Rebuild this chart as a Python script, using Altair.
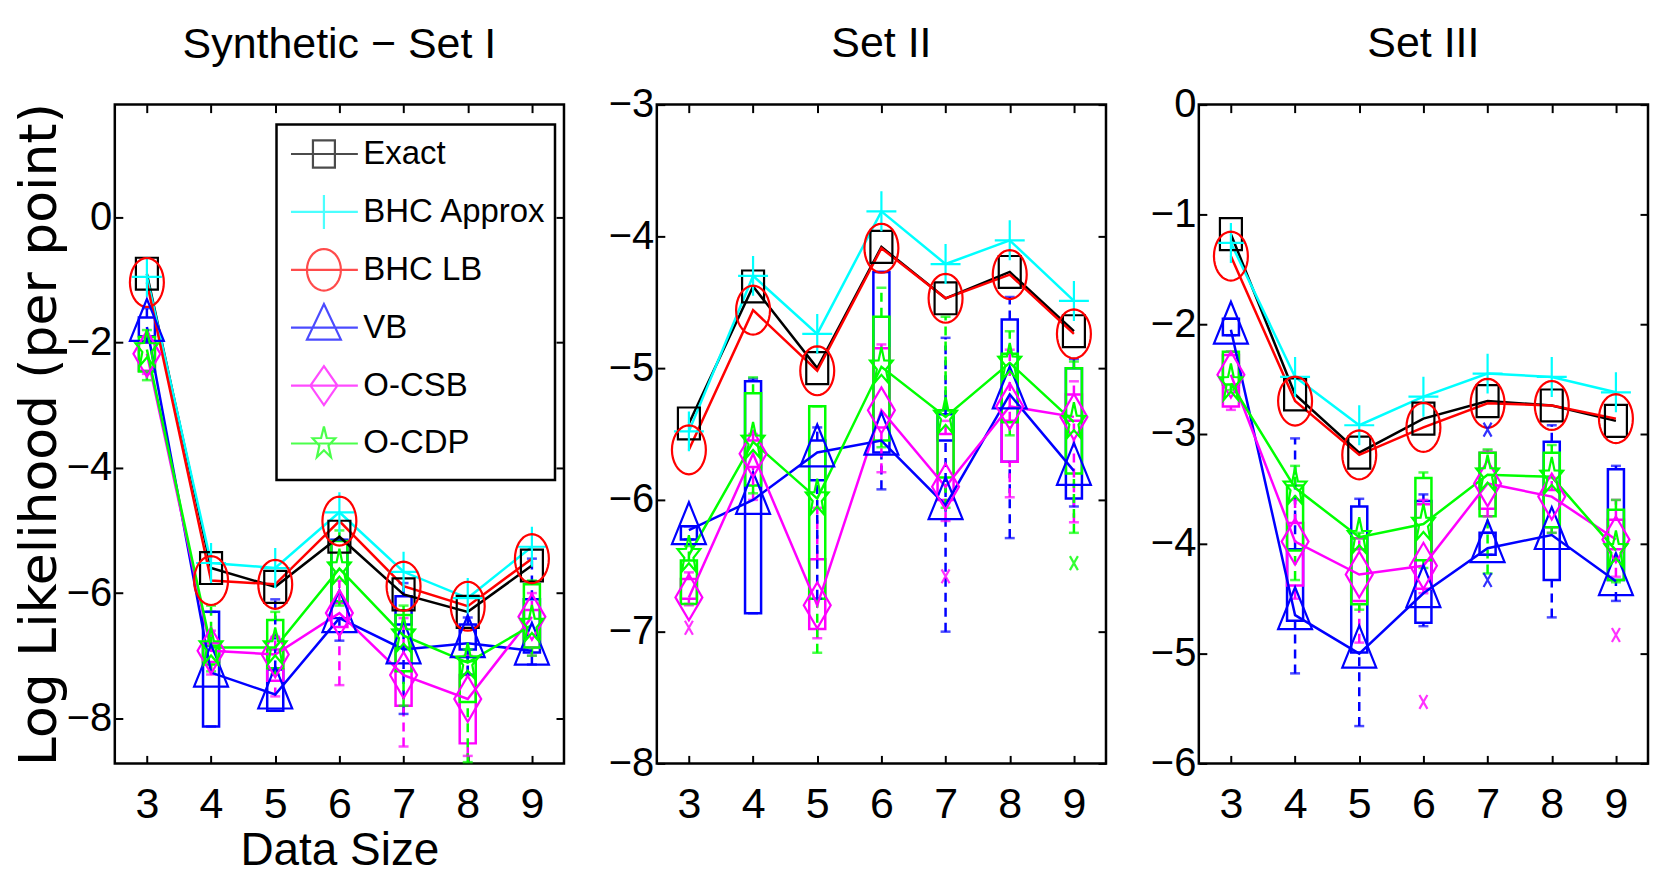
import math
import altair as alt
import pandas as pd

# ---------------- data ----------------
X = [3, 4, 5, 6, 7, 8, 9]
SERIES = ["Exact", "BHC Approx", "BHC LB", "VB", "O-CSB", "O-CDP"]
COLORS = ["#000000", "#00FFFF", "#FF0000", "#0000FF", "#FF00FF", "#00FF00"]
MARKERS = ["square", "plus", "circle", "triangle", "diamond", "star"]
BOX_SERIES = ["VB", "O-CSB", "O-CDP"]

TITLES = ["Synthetic \u2212 Set I", "Set II", "Set III"]
Y_DOMAINS = [[-8.72, 1.8], [-8, -3], [-6, 0]]
Y_TICKS = [[-8, -6, -4, -2, 0], [-8, -7, -6, -5, -4, -3], [-6, -5, -4, -3, -2, -1, 0]]

# panel 1 (Synthetic - Set I): mean log likelihood per series
P1_EXACT = [-0.9, -5.6, -5.9, -5.1, -6.02, -6.3, -5.56]
P1_APPROX = [-0.95, -5.52, -5.6, -4.71, -5.66, -6.08, -5.26]
P1_LB = [-1.04, -5.8, -5.86, -4.85, -5.89, -6.21, -5.45]
P1_VB = [-1.75, -7.27, -7.62, -6.4, -6.9, -6.8, -6.92]
P1_CSB = [-2.18, -6.92, -6.98, -6.32, -7.31, -7.69, -6.38]
P1_CDP = [-2.11, -6.87, -6.87, -5.61, -6.68, -7.11, -6.51]
# boxes: (upper quartile, lower quartile, upper whisker, lower whisker)
P1_VB_BOX = [(-1.6, -1.9, -1.45, -2.0), (-6.3, -8.13, -6.3, -8.13), (-7.22, -7.88, -6.1, -7.88),
             (-5.15, -6.4, -5.15, -6.76), (-6.05, -6.5, -5.84, -7.93), (-6.5, -6.9, -6.39, -7.3),
             (-6.1, -6.95, -5.45, -7.14)]
P1_CSB_BOX = [(-2.0, -2.45, -1.9, -2.5), (-6.8, -7.1, -6.6, -7.3), (-6.9, -7.4, -6.7, -7.65),
              (-6.16, -6.54, -5.8, -7.47), (-6.87, -7.8, -6.4, -8.45), (-7.31, -8.4, -7.0, -8.6),
              (-6.27, -6.87, -6.0, -7.0)]
P1_CDP_BOX = [(-1.91, -2.46, -1.8, -2.6), (-6.84, -7.14, -6.2, -7.25), (-6.43, -7.2, -6.3, -7.3),
              (-5.17, -6.13, -5.0, -6.2), (-6.35, -7.25, -6.2, -7.8), (-7.09, -7.74, -6.9, -8.7),
              (-5.86, -6.87, -5.8, -7.0)]
P1_OUTLIERS = []

# panel 2 (Set II)
P2_EXACT = [-5.42, -4.38, -5.0, -4.08, -4.47, -4.27, -4.72]
P2_APPROX = [-5.48, -4.3, -4.74, -3.81, -4.21, -4.03, -4.49]
P2_LB = [-5.62, -4.56, -5.02, -4.09, -4.47, -4.29, -4.74]
P2_VB = [-6.23, -6.0, -5.64, -5.55, -6.04, -5.2, -5.78]
P2_CSB = [-6.74, -5.65, -6.8, -5.32, -5.9, -5.29, -5.37]
P2_CDP = [-6.42, -5.56, -5.99, -4.99, -5.37, -4.96, -5.41]
P2_VB_BOX = [(-6.2, -6.3, -6.2, -6.3), (-5.1, -6.86, -5.08, -6.86), (-5.55, -5.85, -5.45, -6.75),
             (-4.27, -5.64, -4.27, -5.92), (-5.35, -5.55, -4.77, -7.0), (-4.63, -5.71, -4.46, -6.29),
             (-5.0, -5.99, -4.93, -6.05)]
P2_CSB_BOX = [(-6.6, -6.75, -6.55, -6.8), (-5.55, -5.75, -5.5, -6.0), (-6.45, -6.98, -6.06, -7.05),
              (-4.85, -5.45, -4.82, -5.79), (-5.5, -6.0, -5.4, -6.16), (-5.4, -5.71, -4.86, -5.98),
              (-5.2, -5.4, -5.1, -6.17)]
P2_CDP_BOX = [(-6.46, -6.79, -6.35, -6.79), (-5.19, -5.89, -5.07, -5.95), (-5.29, -6.75, -5.29, -7.16),
              (-4.61, -5.55, -4.39, -5.6), (-5.32, -5.83, -4.61, -6.06), (-4.89, -5.41, -4.72, -5.51),
              (-5.0, -5.8, -4.95, -6.25)]
P2_OUTLIERS = [("O-CSB", 3, -6.97), ("O-CSB", 7, -6.58), ("O-CDP", 9, -6.48)]

# panel 3 (Set III)
P3_EXACT = [-1.18, -2.64, -3.17, -2.86, -2.7, -2.74, -2.88]
P3_APPROX = [-1.26, -2.48, -2.92, -2.66, -2.45, -2.48, -2.62]
P3_LB = [-1.38, -2.7, -3.19, -2.94, -2.72, -2.74, -2.86]
P3_VB = [-2.05, -4.65, -5.0, -4.45, -4.04, -3.92, -4.34]
P3_CSB = [-2.46, -3.98, -4.28, -4.2, -3.45, -3.57, -3.96]
P3_CDP = [-2.54, -3.49, -3.94, -3.82, -3.37, -3.39, -4.06]
P3_VB_BOX = [(-1.95, -2.1, -1.95, -2.1), (-4.05, -4.7, -3.04, -5.18), (-3.66, -4.99, -3.59, -5.66),
             (-3.61, -4.72, -3.55, -4.75), (-3.9, -4.1, -3.9, -4.1), (-3.07, -4.33, -2.92, -4.67),
             (-3.32, -4.33, -3.29, -4.52)]
P3_CSB_BOX = [(-2.28, -2.75, -2.25, -2.78), (-3.81, -4.38, -3.6, -4.5), (-4.05, -4.52, -3.95, -4.9),
              (-3.64, -4.41, -3.6, -4.45), (-3.17, -3.68, -3.15, -3.75), (-3.51, -3.85, -3.4, -3.9),
              (-3.78, -4.05, -3.6, -4.3)]
P3_CDP_BOX = [(-2.25, -2.55, -2.25, -2.6), (-3.47, -4.06, -3.29, -4.33), (-3.95, -4.55, -3.9, -4.6),
              (-3.4, -4.15, -3.35, -4.22), (-3.17, -3.75, -3.14, -4.27), (-3.17, -3.85, -3.1, -3.9),
              (-3.69, -4.33, -3.6, -4.35)]
P3_OUTLIERS = [("VB", 7, -2.96), ("VB", 7, -4.33), ("O-CSB", 6, -5.44), ("O-CSB", 9, -4.83)]

# ---------------- styling helpers ----------------
SANS = "Liberation Sans, Arial, Helvetica, sans-serif"
WIDE = "DejaVu Sans, sans-serif"
PANEL_W, PANEL_H = 450, 660
BOX_HALF = 0.125
MARK_S = 12.0
LEG_S = 20.0
XTICK_FS = 43
YTICK_FS = 40
COLOR_OF = dict(zip(SERIES, COLORS))


def subpaths(kind):
    if kind == "square":
        return [([(-11, -16), (11, -16), (11, 16), (-11, 16)], True)]
    if kind == "plus":
        return [([(-15, 0), (15, 0)], False), ([(0, -20), (0, 20)], False)]
    if kind == "circle":
        pts = [(17 * math.cos(2 * math.pi * k / 36), 24.5 * math.sin(2 * math.pi * k / 36)) for k in range(36)]
        return [(pts, True)]
    if kind == "triangle":
        return [([(0, -28), (17, 14), (-17, 14)], True)]
    if kind == "diamond":
        return [([(0, -23), (13.5, 0), (0, 23), (-13.5, 0)], True)]
    if kind == "star":
        pts = []
        for k in range(10):
            a = math.radians(-90 + 36 * k)
            f = 1.0 if k % 2 == 0 else 0.4
            pts.append((12 * f * math.cos(a), 20 * f * math.sin(a)))
        return [(pts, True)]
    if kind == "x":
        return [([(-4, -7), (4, 7)], False), ([(-4, 7), (4, -7)], False)]


def to_path(kind, s, dx=0.0, sy=1.0, line=None, half_h=None):
    parts = []
    if half_h:
        # invisible move-to points that give every legend symbol the same height
        parts.append(f"M0,{-half_h / s:.3f}M0,{half_h / s:.3f}")
    if line:
        parts.append(f"M{line[0] / s:.3f},0L{line[1] / s:.3f},0")
    for pts, closed in subpaths(kind):
        seg = "M" + "L".join(f"{(px + dx) / s:.3f},{py * sy / s:.3f}" for px, py in pts)
        if closed:
            seg += "Z"
        parts.append(seg)
    return "".join(parts)


LEGEND_PATHS = [to_path(k, LEG_S, dx=18, sy=0.85, line=(-15, 52), half_h=24) for k in MARKERS]


def mean_frame(arrays):
    rows = []
    for name, vals in zip(SERIES, arrays):
        for x, v in zip(X, vals):
            rows.append({"series": name, "x": x, "y": v})
    df = pd.DataFrame(rows)
    df["clr"] = df["series"].map(COLOR_OF)
    return df


def box_frame(boxes):
    rows = []
    for name, vals in zip(BOX_SERIES, boxes):
        for x, (q3, q1, whi, wlo) in zip(X, vals):
            rows.append({"series": name, "x": x, "q3": q3, "q1": q1, "whi": whi, "wlo": wlo})
    df = pd.DataFrame(rows)
    df["clr"] = df["series"].map(COLOR_OF)
    return df


def out_frame(outs):
    df = pd.DataFrame([{"series": s, "x": x, "y": y} for s, x, y in outs], columns=["series", "x", "y"])
    df["clr"] = df["series"].map(COLOR_OF)
    return df


def panel(i, means, boxes, outs):
    first = i == 0
    xs = alt.Scale(domain=[2.5, 9.5], nice=False, zero=False)
    ys = alt.Scale(domain=Y_DOMAINS[i], nice=False, zero=False)
    col = alt.Color("clr:N", scale=None)

    mdf = mean_frame(means)
    bdf = box_frame(boxes)
    odf = out_frame(outs)

    common_axis = dict(offset=-8, tickSize=8, tickWidth=2, tickColor="black", domain=False, grid=False,
                       labelFont=SANS, labelColor="black")
    bottom = alt.Axis(orient="bottom", values=X, format="d", labelPadding=20, labelFontSize=XTICK_FS,
                      title="Data Size" if first else None, titleFont=SANS, titleFontSize=46,
                      titleFontWeight="normal", titleColor="black", titlePadding=2, **common_axis)
    left = alt.Axis(orient="left", values=Y_TICKS[i], format="d", labelPadding=3, labelFontSize=YTICK_FS,
                    title="Log Likelihood (per point)" if first else None, titleFont=WIDE,
                    titleFontSize=52, titleFontWeight="normal", titleColor="black", titlePadding=0,
                    **common_axis)
    top = alt.Axis(orient="top", values=X, offset=-8, tickSize=8, tickWidth=2, tickColor="black",
                   domain=False, grid=False, labels=False, title=None)
    right = alt.Axis(orient="right", values=Y_TICKS[i], offset=-8, tickSize=8, tickWidth=2,
                     tickColor="black", domain=False, grid=False, labels=False, title=None)

    def xq(field="x", axis=None):
        return alt.X(f"{field}:Q", scale=xs, axis=axis)

    def yq(field, axis=None):
        return alt.Y(f"{field}:Q", scale=ys, axis=axis)

    bbase = alt.Chart(bdf)
    boxes_l = bbase.transform_calculate(
        xl=f"datum.x - {BOX_HALF}", xr=f"datum.x + {BOX_HALF}"
    ).mark_rect(filled=False, strokeWidth=2.5).encode(
        x=xq("xl"), x2="xr:Q", y=yq("q3"), y2="q1:Q", color=col)
    wh_up = bbase.mark_rule(strokeWidth=2.5, strokeDash=[9, 6]).encode(
        x=xq(), y=yq("q3"), y2="whi:Q", color=col)
    wh_lo = bbase.mark_rule(strokeWidth=2.5, strokeDash=[9, 6]).encode(
        x=xq(), y=yq("wlo"), y2="q1:Q", color=col)
    cap_hi = bbase.mark_tick(orient="horizontal", size=10, thickness=2.5).encode(
        x=xq(), y=yq("whi"), color=col)
    cap_lo = bbase.mark_tick(orient="horizontal", size=10, thickness=2.5).encode(
        x=xq(), y=yq("wlo"), color=col)

    lines = alt.Chart(mdf).mark_line(strokeWidth=2.5).encode(
        x=xq(axis=bottom), y=yq("y", axis=left), color=col, detail="series:N")

    layers = [boxes_l, wh_up, wh_lo, cap_hi, cap_lo, lines]
    for name, color, kind in zip(SERIES, COLORS, MARKERS):
        layers.append(
            alt.Chart(mdf).transform_filter(alt.datum.series == name).mark_point(
                shape=to_path(kind, MARK_S), size=(2 * MARK_S) ** 2, filled=False,
                strokeWidth=2.2, color=color, opacity=1
            ).encode(x=xq(), y=yq("y"))
        )
    if len(odf):
        layers.append(
            alt.Chart(odf).mark_point(shape=to_path("x", MARK_S), size=(2 * MARK_S) ** 2,
                                      filled=False, strokeWidth=2.2, opacity=0.8).encode(
                x=xq(), y=yq("y"), color=col)
        )
    # frame ticks on top / right
    layers.append(alt.Chart(mdf).mark_point(opacity=0).encode(x=xq(axis=top), y=yq("y", axis=right)))

    if first:
        leg = alt.Legend(title=None, orient="none", legendX=162, legendY=20, direction="vertical",
                         padding=8, symbolSize=(2 * LEG_S) ** 2, symbolStrokeWidth=2.2,
                         labelFont=SANS, labelFontSize=33, labelColor="black", labelOffset=36,
                         labelLimit=400, rowPadding=1, strokeColor="black", fillColor="white")
        layers.append(
            alt.Chart(mdf).transform_filter("datum.y > 1000").mark_point(filled=False, strokeWidth=2.2).encode(
                x=xq(), y=yq("y"),
                color=alt.Color("series:N", scale=alt.Scale(domain=SERIES, range=COLORS), legend=leg),
                shape=alt.Shape("series:N", scale=alt.Scale(domain=SERIES, range=LEGEND_PATHS), legend=leg),
            )
        )

    # top axis label / long axis title overflow shifts title groups; compensate to align titles
    title_offset = 36 if first else 19
    return alt.layer(*layers).resolve_axis(x="independent", y="independent").properties(
        width=PANEL_W, height=PANEL_H,
        title=alt.TitleParams(TITLES[i], font=SANS, fontSize=43, fontWeight="normal",
                              color="black", anchor="middle", offset=title_offset),
    )


p1 = panel(0, [P1_EXACT, P1_APPROX, P1_LB, P1_VB, P1_CSB, P1_CDP], [P1_VB_BOX, P1_CSB_BOX, P1_CDP_BOX], P1_OUTLIERS)
p2 = panel(1, [P2_EXACT, P2_APPROX, P2_LB, P2_VB, P2_CSB, P2_CDP], [P2_VB_BOX, P2_CSB_BOX, P2_CDP_BOX], P2_OUTLIERS)
p3 = panel(2, [P3_EXACT, P3_APPROX, P3_LB, P3_VB, P3_CSB, P3_CDP], [P3_VB_BOX, P3_CSB_BOX, P3_CDP_BOX], P3_OUTLIERS)

chart = alt.hconcat(p1, p2, p3, spacing=93, bounds="flush").resolve_scale(
    color="independent", shape="independent"
).properties(
    padding={"left": 4, "top": 12, "right": 0, "bottom": 0},
    background="white",
).configure_view(stroke="black", strokeWidth=2.5).configure_legend(strokeWidth=2.5)

chart.save("out.html", embed_options={"renderer": "svg", "actions": False})
